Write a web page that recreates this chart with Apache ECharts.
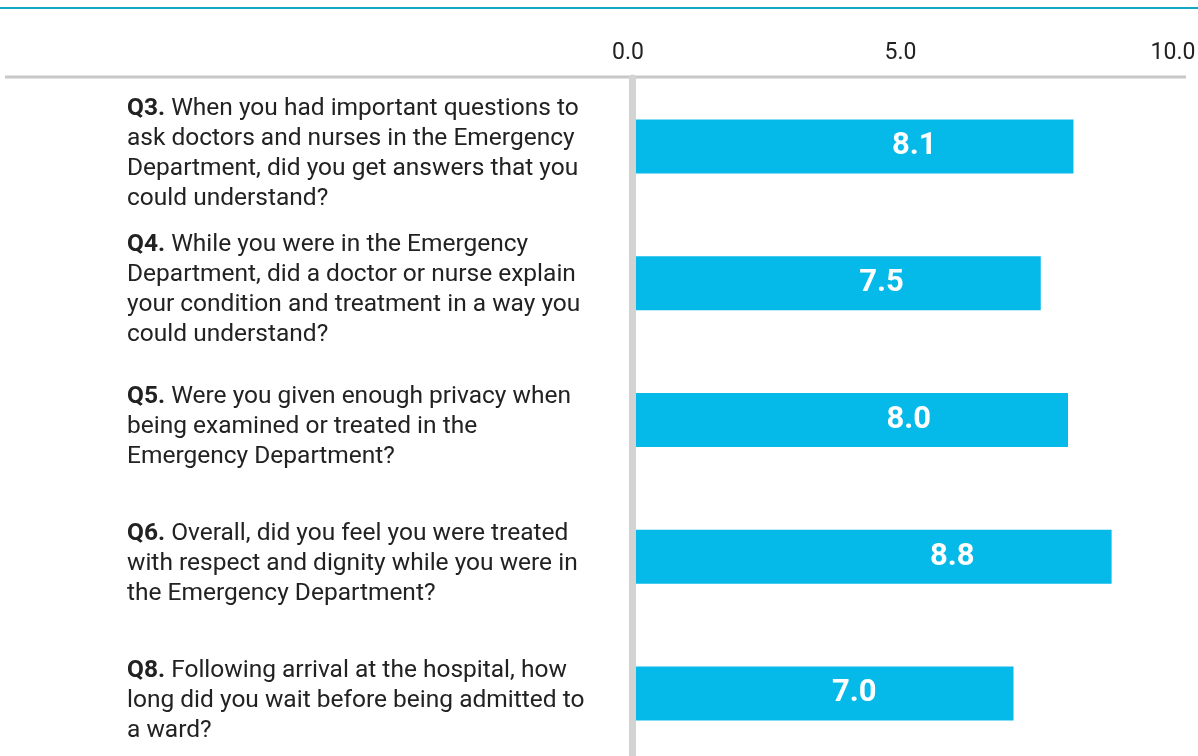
<!DOCTYPE html>
<html>
<head>
<meta charset="utf-8">
<script src="https://cdn.jsdelivr.net/npm/echarts@6/dist/echarts.min.js"></script>
<style>
  html, body { margin: 0; padding: 0; background: #fff; }
  #chart { width: 1198px; height: 756px; }
</style>
</head>
<body>
<div id="chart"></div>
<script>
// question ids and wording (line breaks as in the source)
const questionIds = ['Q3.', 'Q4.', 'Q5.', 'Q6.', 'Q8.']
const questionTexts = [
  ' When you had important questions to\nask doctors and nurses in the Emergency\nDepartment, did you get answers that you\ncould understand?',
  ' While you were in the Emergency\nDepartment, did a doctor or nurse explain\nyour condition and treatment in a way you\ncould understand?',
  ' Were you given enough privacy when\nbeing examined or treated in the\nEmergency Department?',
  ' Overall, did you feel you were treated\nwith respect and dignity while you were in\nthe Emergency Department?',
  ' Following arrival at the hospital, how\nlong did you wait before being admitted to\na ward?'
]
const scores = [8.1, 7.5, 8.0, 8.8, 7.0]
const tickLabels = ['0.0', '5.0', '10.0']

const chart = echarts.init(document.getElementById('chart'))

const textFont = 'Roboto, sans-serif'

const option = {
  animation: false,
  grid: {
    left: 632,
    top: 78,
    width: 545,
    height: 684,
    containLabel: false,
    outerBoundsMode: 'none'
  },
  graphic: [
    // teal rule across the top
    {
      type: 'line',
      shape: { x1: 0, y1: 8, x2: 1198, y2: 8 },
      style: { stroke: '#14a7c2', lineWidth: 2 }
    },
    // grey rule under the scale
    {
      type: 'line',
      shape: { x1: 5, y1: 77, x2: 1186, y2: 77 },
      style: { stroke: '#c8c8c8', lineWidth: 3 }
    }
  ],
  xAxis: {
    type: 'value',
    position: 'top',
    min: 0,
    max: 10,
    interval: 5,
    axisLine: { show: false },
    axisTick: { show: false },
    splitLine: { show: false },
    axisLabel: {
      margin: 13,
      padding: [0, 8, 0, 0],
      color: '#222',
      fontFamily: textFont,
      fontSize: 23,
      formatter: v => tickLabels[Math.round(v / 5)]
    }
  },
  yAxis: {
    type: 'category',
    inverse: true,
    z: 3,
    data: questionIds.map((id, i) => id + '|' + questionTexts[i]),
    axisLine: { show: true, lineStyle: { color: '#d3d3d3', width: 7 } },
    axisTick: { show: false },
    axisLabel: {
      align: 'left',
      margin: 505,
      padding: [14, 0, 0, 0],
      color: '#222',
      fontFamily: textFont,
      fontSize: 24.5,
      lineHeight: 30,
      formatter: v => {
        const parts = v.split('|')
        return '{b|' + parts[0] + '}' + parts[1]
      },
      rich: {
        b: { fontWeight: 'bold', fontSize: 24.5, lineHeight: 30, color: '#222', fontFamily: textFont }
      }
    }
  },
  series: [
    {
      type: 'bar',
      data: scores,
      barWidth: 54,
      itemStyle: { color: '#05b9e9' },
      label: {
        show: true,
        position: 'insideRight',
        distance: 137,
        color: '#fff',
        fontWeight: 'bold',
        fontSize: 31,
        fontFamily: textFont,
        formatter: p => p.value.toFixed(1)
      }
    }
  ]
}

chart.setOption(option)
window.addEventListener('resize', () => chart.resize())
</script>
</body>
</html>
